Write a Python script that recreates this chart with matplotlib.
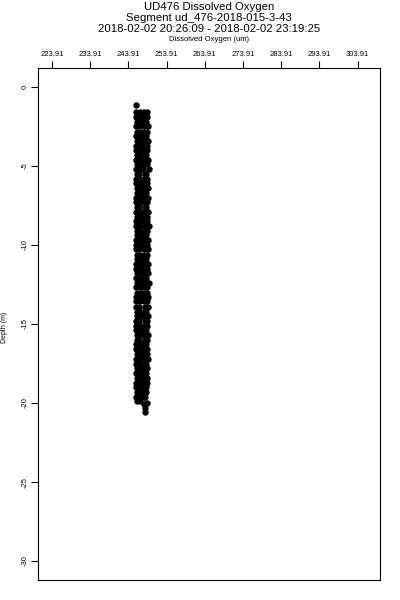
import matplotlib
matplotlib.use("Agg")
import matplotlib.pyplot as plt

# depth (m) rows shared by the four oxygen columns
depth = [-1.62, -1.93, -2.24, -2.51, -2.83, -3.12, -3.41, -3.72, -3.98, -4.31,
         -4.62, -4.88, -5.19, -5.52, -5.81, -6.09, -6.42, -6.71, -7.02, -7.28,
         -7.61, -7.92, -8.21, -8.49, -8.82, -9.11, -9.39, -9.72, -10.01, -10.29,
         -10.62, -10.91, -11.18, -11.52, -11.79, -12.11, -12.42, -12.69, -13.02, -13.31,
         -13.58, -13.91, -14.22, -14.49, -14.81, -15.12, -15.38, -15.71, -16.02, -16.29,
         -16.61, -16.92, -17.19, -17.51, -17.82, -18.09, -18.41, -18.72, -18.99, -19.31,
         -19.62]

ox_a = [246.0, 245.9, 246.2, 245.8, 246.1, 246.0, 246.3, 245.9, 245.8, 246.1,
        246.0, 246.2, 245.9, 246.1, 245.8, 246.0, 246.3, 246.1, 245.9, 246.0,
        246.2, 245.8, 246.1, 245.9, 246.0, 246.3, 246.1, 245.8, 246.0, 245.9,
        246.2, 246.1, 246.0, 245.8, 246.1, 245.9, 246.2, 246.0, 246.1, 245.9,
        245.8, 246.0, 246.2, 246.1, 245.9, 246.0, 245.8, 246.1, 246.2, 246.0,
        245.9, 246.1, 245.8, 246.0, 246.2, 245.9, 246.1, 246.0, 245.8, 246.1,
        246.0]
ox_b = [247.0, 246.8, 247.2, 246.9, 247.1, 246.7, 247.0, 247.3, 246.8, 247.1,
        246.9, 247.2, 247.0, 246.7, 247.1, 246.9, 247.3, 246.8, 247.0, 247.2,
        246.7, 247.1, 246.9, 247.2, 247.0, 246.8, 247.1, 247.3, 246.9, 246.7,
        247.0, 247.2, 246.8, 247.1, 246.9, 247.3, 246.7, 247.0, 247.2, 246.9,
        247.1, 246.8, 247.0, 247.3, 246.7, 247.1, 246.9, 247.2, 246.8, 247.0,
        247.3, 246.9, 247.1, 246.7, 247.0, 247.2, 246.8, 247.1, 246.9, 247.0,
        247.1]
ox_c = [248.0, 247.8, 248.2, 247.9, 248.1, 247.7, 248.3, 248.0, 247.8, 248.2,
        247.9, 248.1, 247.7, 248.3, 248.0, 247.8, 248.2, 248.1, 247.9, 248.0,
        248.3, 247.8, 248.1, 247.9, 248.2, 248.0, 247.7, 248.3, 248.1, 247.9,
        248.0, 248.2, 247.8, 248.1, 248.3, 247.9, 248.0, 247.7, 248.2, 248.1,
        247.9, 248.3, 248.0, 247.8, 248.2, 248.1, 247.7, 248.0, 248.3, 247.9,
        248.1, 247.8, 248.2, 248.0, 247.9, 248.3, 248.1, 247.8, 248.0, 248.2,
        248.0]
ox_d = [248.7, 248.9, 248.5, 249.0, 248.8, 248.6, 249.1, 248.7, 248.9, 248.5,
        249.0, 248.8, 249.2, 248.6, 248.9, 248.7, 249.1, 248.5, 249.0, 248.8,
        248.6, 249.1, 248.9, 248.7, 249.2, 248.8, 248.5, 249.0, 248.7, 249.1,
        248.9, 248.6, 249.1, 248.8, 249.0, 248.5, 249.2, 248.7, 248.9, 249.1,
        248.8, 249.0, 248.6, 249.1, 248.7, 248.9, 248.5, 249.0, 248.8, 248.6,
        248.9, 248.7, 249.0, 248.5, 248.8, 248.6, 248.9, 248.7, 248.5, 248.6,
        248.4]

# isolated points at the top and the bottom tail
extra_depth = [-1.15, -19.85, -19.9, -20.05, -20.0, -20.35, -20.55]
extra_ox = [245.9, 246.1, 247.0, 248.1, 248.7, 248.2, 248.4]

x_ticks = [223.91, 233.91, 243.91, 253.91, 263.91, 273.91, 283.91, 293.91, 303.91]
y_ticks = [0, -5, -10, -15, -20, -25, -30]

title_lines = ["UD476 Dissolved Oxygen",
               "Segment ud_476-2018-015-3-43",
               "2018-02-02 20:26:09 - 2018-02-02 23:19:25"]

plt.rcParams["font.family"] = ["Liberation Sans", "DejaVu Sans"]

fig = plt.figure(figsize=(4, 6), dpi=100)
ax = fig.add_axes([0.096, 0.0333, 0.854, 0.8537])

for ox in (ox_a, ox_b, ox_c, ox_d):
    ax.plot(ox, depth, "o", color="black", ms=4.6, mew=0)
ax.plot(extra_ox, extra_depth, "o", color="black", ms=4.6, mew=0)

ax.set_xlim(220.4, 309.75)
ax.set_ylim(-31.2, 1.2)

ax.xaxis.tick_top()
ax.set_xticks(x_ticks)
ax.set_xticklabels([f"{v:.2f}" for v in x_ticks], fontsize=5.5)
ax.set_yticks(y_ticks)
ax.set_yticklabels([str(v) for v in y_ticks], fontsize=5.5, rotation=90, va="center")
ax.tick_params(direction="out", length=5, width=0.8, pad=2, colors="black")
for s in ax.spines.values():
    s.set_linewidth(0.8)

fig.text(0.0125, 0.455, "Depth (m)", rotation=90, fontsize=5, ha="center", va="center")
fig.text(0.5225, 0.934, "Dissolved Oxygen (um)", fontsize=5.5, ha="center", va="center")
for i, line in enumerate(title_lines):
    fig.text(0.5225, 0.988 - i * 0.0185, line, fontsize=8.2, ha="center", va="center")

fig.savefig("out.png", dpi=100)
